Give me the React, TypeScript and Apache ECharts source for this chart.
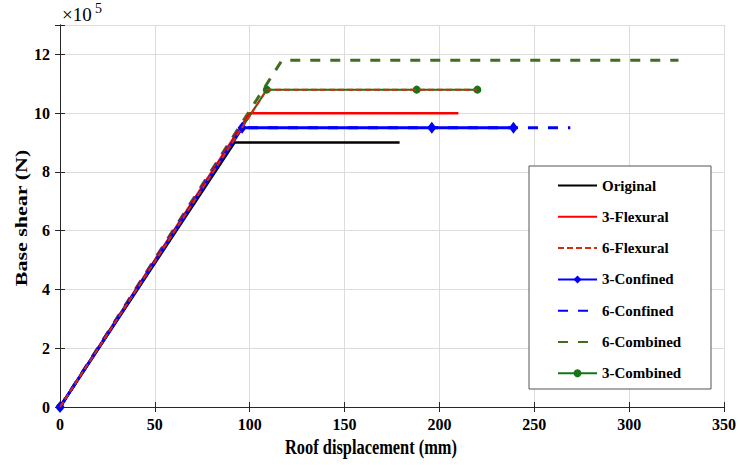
import React, { useEffect, useRef } from "react";
import * as echarts from "echarts";

const xTicks = [0, 50, 100, 150, 200, 250, 300, 350];
const yTicks = [0, 2, 4, 6, 8, 10, 12];

const originalX = [0, 92, 179];
const originalY = [0, 900000, 900000];
const flex3X = [0, 100, 210];
const flex3Y = [0, 1000000, 1000000];
const flex6X = [0, 109, 220];
const flex6Y = [0, 1080000, 1080000];
const conf3X = [0, 96, 196, 239];
const conf3Y = [0, 950000, 950000, 950000];
const conf6X = [0, 95, 269];
const conf6Y = [0, 950000, 950000];
const comb6X = [0, 117, 326];
const comb6Y = [0, 1180000, 1180000];
const comb3X = [0, 109, 188, 220];
const comb3Y = [0, 1080000, 1080000, 1080000];

const legendNames = ["Original", "3-Flexural", "6-Flexural", "3-Confined", "6-Confined", "6-Combined", "3-Combined"];
const withMarker = ["3-Confined", "3-Combined"];

const pairs = (xs: number[], ys: number[]) => xs.map((x, i) => [x, ys[i]]);

const FONT = "Liberation Serif";

export default function App() {
  const ref = useRef<HTMLDivElement>(null);
  useEffect(() => {
    if (!ref.current) return;
    const chart = echarts.init(ref.current, undefined, { renderer: "svg" });
    const axisColor = "#262626";
    const common = {
      type: "value" as const,
      axisLine: { show: true, lineStyle: { color: axisColor, width: 1 } },
      axisTick: { show: true, inside: true, length: 5, lineStyle: { color: axisColor } },
    };
    chart.setOption({
      animation: false,
      backgroundColor: "#fff",
      grid: { left: 60, right: 13, top: 25, bottom: 58, containLabel: false },
      xAxis: [
        {
          ...common,
          min: 0,
          max: 350,
          interval: 50,
          position: "bottom",
          axisLabel: {
            fontFamily: FONT,
            fontWeight: "bold",
            fontSize: 16,
            color: "#000",
            margin: 9,
            formatter: (v: number) => (xTicks.includes(v) ? String(v) : ""),
          },
          splitLine: { show: true, lineStyle: { color: "#dcdcdc", width: 1 } },
        },
        {
          ...common,
          min: 0,
          max: 350,
          interval: 50,
          position: "top",
          axisLabel: { show: false },
          splitLine: { show: false },
        },
      ],
      yAxis: [
        {
          ...common,
          min: 0,
          max: 1300000,
          interval: 200000,
          position: "left",
          axisLabel: {
            fontFamily: FONT,
            fontWeight: "bold",
            fontSize: 16,
            color: "#000",
            margin: 10,
            formatter: (v: number) => {
              const u = Math.round(v / 100000);
              return yTicks.includes(u) && Math.abs(v - u * 100000) < 1 ? String(u) : "";
            },
          },
          splitLine: { show: true, lineStyle: { color: "#dcdcdc", width: 1 } },
        },
        {
          ...common,
          min: 0,
          max: 1300000,
          interval: 200000,
          position: "right",
          axisLabel: { show: false },
          splitLine: { show: false },
        },
      ],
      legend: {
        orient: "vertical",
        left: 557,
        top: 178,
        padding: 0,
        itemWidth: 39,
        itemHeight: 10,
        itemGap: 16.3,
        z: 10,
        textStyle: { fontFamily: FONT, fontWeight: "bold", fontSize: 15, color: "#000" },
        data: legendNames.map((n) =>
          withMarker.includes(n) ? { name: n } : { name: n, itemStyle: { opacity: 0 } }
        ),
      },
      graphic: [
        {
          type: "rect",
          z: 5,
          shape: { x: 529, y: 166, width: 182, height: 223 },
          style: { fill: "#fff", stroke: "#555", lineWidth: 1 },
        },
        {
          type: "text",
          x: 62,
          y: 5,
          style: { text: "×10", fontFamily: FONT, fontSize: 19, fill: "#000" },
        },
        {
          type: "text",
          x: 95,
          y: 1,
          style: { text: "5", fontFamily: FONT, fontSize: 14, fill: "#000" },
        },
        {
          type: "text",
          x: 371,
          y: 447,
          scaleX: 0.78,
          scaleY: 1,
          style: {
            text: "Roof displacement (mm)",
            fontFamily: FONT,
            fontWeight: "bold",
            fontSize: 21,
            fill: "#000",
            align: "center",
            verticalAlign: "middle",
          },
        },
        {
          type: "text",
          x: 21,
          y: 218,
          rotation: Math.PI / 2,
          scaleX: 1,
          scaleY: 0.78,
          style: {
            text: "Base shear (N)",
            fontFamily: FONT,
            fontWeight: "bold",
            fontSize: 22,
            fill: "#000",
            align: "center",
            verticalAlign: "middle",
          },
        },
      ],
      series: [
        {
          name: "3-Combined",
          type: "line",
          data: pairs(comb3X, comb3Y),
          symbol: "circle",
          symbolSize: 8,
          showAllSymbol: true,
          lineStyle: { color: "#167516", width: 2 },
          itemStyle: { color: "#167516" },
          z: 3,
        },
        {
          name: "6-Combined",
          type: "line",
          data: pairs(comb6X, comb6Y),
          symbol: "none",
          lineStyle: { color: "#3f6e1f", width: 3, type: [10, 10] },
          itemStyle: { color: "#3f6e1f" },
          z: 2,
        },
        {
          name: "6-Confined",
          type: "line",
          data: pairs(conf6X, conf6Y),
          symbol: "none",
          lineStyle: { color: "#0000ff", width: 3, type: [10, 10] },
          itemStyle: { color: "#0000ff" },
          z: 2,
        },
        {
          name: "3-Confined",
          type: "line",
          data: pairs(conf3X, conf3Y),
          symbol: "diamond",
          symbolSize: [9, 12],
          showAllSymbol: true,
          lineStyle: { color: "#0000ff", width: 3 },
          itemStyle: { color: "#0000ff" },
          z: 3,
        },
        {
          name: "6-Flexural",
          type: "line",
          data: pairs(flex6X, flex6Y),
          symbol: "none",
          lineStyle: { color: "#d42a10", width: 2, type: [6, 3] },
          itemStyle: { color: "#ff0000" },
          z: 4,
        },
        {
          name: "3-Flexural",
          type: "line",
          data: pairs(flex3X, flex3Y),
          symbol: "none",
          lineStyle: { color: "#ff0000", width: 2.5 },
          itemStyle: { color: "#ff0000" },
          z: 2,
        },
        {
          name: "Original",
          type: "line",
          data: pairs(originalX, originalY),
          symbol: "none",
          lineStyle: { color: "#000000", width: 2.5 },
          itemStyle: { color: "#000000" },
          z: 2,
        },
      ],
    });
    return () => chart.dispose();
  }, []);
  return <div ref={ref} style={{ width: 739, height: 465, position: "absolute", left: 0, top: 0 }} />;
}
